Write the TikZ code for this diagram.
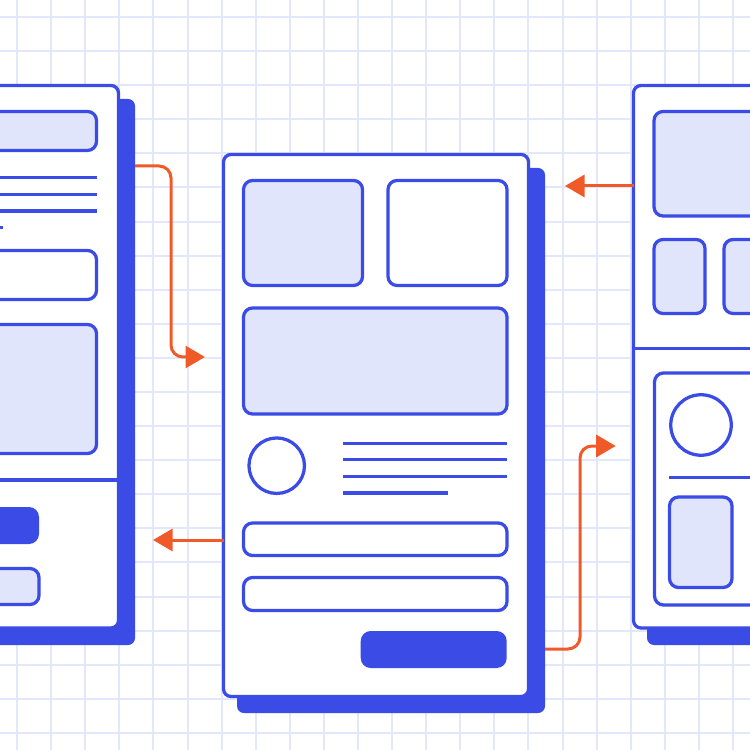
\documentclass[tikz,border=0pt]{standalone}
\usetikzlibrary{arrows.meta,fit}

\definecolor{ink}{RGB}{58,75,230}
\definecolor{tint}{RGB}{224,229,252}
\definecolor{gridc}{RGB}{226,231,252}
\definecolor{flow}{RGB}{240,90,40}

\tikzset{
  shadowbox/.style={fill=ink, draw=none, rounded corners=2.8pt, inner sep=0pt, outer sep=0pt},
  cardbox/.style={fill=white, draw=ink, line width=1.3pt, rounded corners=3pt, inner sep=0pt, outer sep=0pt},
  panel/.style={draw=ink, line width=1.3pt, rounded corners=3.6pt, inner sep=0pt, outer sep=0pt},
  tintpanel/.style={panel, fill=tint},
  whitepanel/.style={panel, fill=white},
  solidbtn/.style={fill=ink, draw=none, rounded corners=4pt, inner sep=0pt, outer sep=0pt},
  textline/.style={draw=ink, line width=1.25pt},
  avatar/.style={circle, draw=ink, line width=1.3pt, fill=white, inner sep=0pt},
  flowline/.style={draw=flow, line width=1.2pt, rounded corners=4.8pt,
    -{Triangle[length=7.8pt,width=8.8pt]}},
}

\begin{document}
\begin{tikzpicture}[x=0.4pt, y=-0.4pt]
\useasboundingbox (0,0) rectangle (750,750);
\clip (0,0) rectangle (750,750);

% background grid
\fill[white] (0,0) rectangle (750,750);
\foreach \k in {0,...,21} {
  \draw[gridc, line width=0.8pt] ({17.05+34.09*\k},0) -- ({17.05+34.09*\k},750);
  \draw[gridc, line width=0.8pt] (0,{17.05+34.09*\k}) -- (750,{17.05+34.09*\k});
}

% ---------- left screen ----------
\node[shadowbox, fit={(-185,99) (135,645)}] (lshadow) {};
\node[cardbox, fit={(-200,85.5) (118.5,628)}] (lcard) {};
\node[tintpanel, fit={(-50,111.5) (96.5,150.5)}] (lbanner) {};
\draw[textline] (-10,177.7) -- (96.5,177.7);
\draw[textline] (-10,194.3) -- (96.5,194.3);
\draw[textline] (-10,211) -- (96.5,211);
\draw[textline] (-10,227.7) -- (3,227.7);
\node[whitepanel, fit={(-50,250.5) (96.5,299.5)}] (lfield) {};
\node[tintpanel, fit={(-50,324.5) (96.5,453.5)}] (limage) {};
\draw[textline, line width=1.3pt] (lcard.west |- 0,480) -- (lcard.east |- 0,480);
\node[solidbtn, fit={(-50,507) (39,544)}] (lbtn) {};
\node[tintpanel, fit={(-50,568.5) (39,604.5)}] (lbtn2) {};

% ---------- central screen ----------
\node[shadowbox, fit={(237,168) (545,713)}] (cshadow) {};
\node[cardbox, fit={(223.5,154.5) (528.5,696.5)}] (ccard) {};
\node[tintpanel, fit={(243.5,180.5) (362.5,285.5)}] (ctile1) {};
\node[whitepanel, fit={(388,180.5) (507,285.5)}] (ctile2) {};
\node[tintpanel, fit={(243.5,308) (507,414)}] (chero) {};
\node[avatar, minimum size=22.2pt] (cavatar) at (276.7,465.7) {};
\draw[textline] (343,443.3) -- (507,443.3);
\draw[textline] (343,459.7) -- (507,459.7);
\draw[textline] (343,476.3) -- (507,476.3);
\draw[textline] (343,493) -- (448,493);
\node[whitepanel, fit={(243.5,523) (507,555.5)}] (cinput1) {};
\node[whitepanel, fit={(243.5,577.5) (507,610.5)}] (cinput2) {};
\node[solidbtn, fit={(360.7,631) (506.7,668)}] (cbtn) {};

% ---------- right screen ----------
\node[shadowbox, fit={(647,99) (965,645)}] (rshadow) {};
\node[cardbox, fit={(633.5,85.5) (950,628)}] (rcard) {};
\node[tintpanel, fit={(654,111.5) (900,216)}] (rbanner) {};
\node[tintpanel, fit={(654,239.5) (705,313.5)}] (rtile1) {};
\node[tintpanel, fit={(724,239.5) (790,313.5)}] (rtile2) {};
\draw[textline, line width=1.3pt] (rcard.west |- 0,348.3) -- (rcard.east |- 0,348.3);
\node[whitepanel, fit={(654.5,373) (900,605)}] (rpanel) {};
\node[avatar, minimum size=24.2pt] (ravatar) at (701,425) {};
\draw[textline] (669,477.5) -- (rpanel.east |- 0,477.5);
\node[tintpanel, fit={(669.5,497) (732,587.5)}] (rthumb) {};

% ---------- flow connectors ----------
\coordinate (f1) at (205,357);
\coordinate (f2) at (153,540);
\coordinate (f3) at (565,186);
\coordinate (f4) at (615.7,446);

\draw[flowline] (lshadow.east |- 0,166) -- (171,166) -- (171,357) -- (f1);
\draw[flowline] (ccard.west |- f2) -- (f2);
\draw[flowline] (rcard.west |- f3) -- (f3);
\draw[flowline] (cshadow.east |- 0,649) -- (580,649) -- (580,446) -- (f4);
\end{tikzpicture}
\end{document}
